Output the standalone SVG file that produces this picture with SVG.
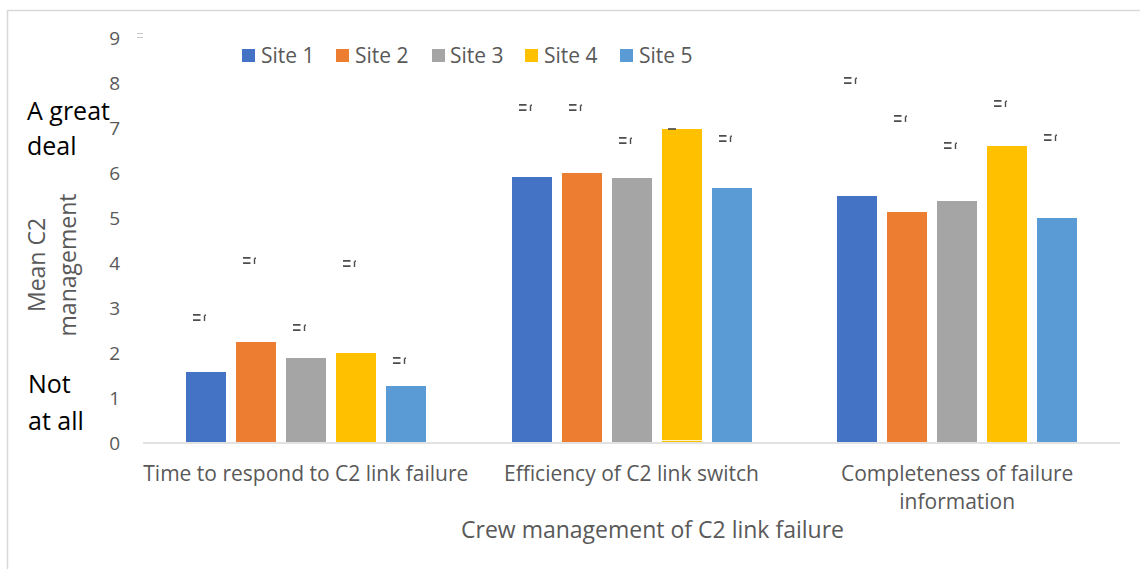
<svg xmlns="http://www.w3.org/2000/svg" xmlns:xlink="http://www.w3.org/1999/xlink" width="1140" height="569" viewBox="0 0 1140 569">
<style>
.t{font-family:"Open Sans","Liberation Sans",sans-serif;fill:#595959}
.tick{font-size:19px;text-anchor:end}
.cat{font-size:21px;text-anchor:middle}
.leg{font-size:21px}
.ttl{font-size:23px;text-anchor:middle}
.blk{font-family:"Open Sans","Liberation Sans",sans-serif;fill:#000;font-size:25px}
.s1{fill:#4472C4}.s2{fill:#ED7D31}.s3{fill:#A5A5A5}.s4{fill:#FFC000}.s5{fill:#5B9BD5}
</style>
<defs>
<g id="eb">
<path d="M0 0.8h7.5M0 6.2h7.5" stroke="#4D4D4D" stroke-width="1.7" fill="none"/>
<path d="M11.5 7V1.4M11.5 1.2h1.5" stroke="#4D4D4D" stroke-width="1.4" fill="none"/>
</g>
</defs>
<rect width="1140" height="569" fill="#fff"/>
<rect x="7.5" y="10.5" width="1160" height="600" fill="none" stroke="#D9D9D9" stroke-width="1.5"/>

<g id="axes">
<line x1="143" y1="443" x2="1120" y2="443" stroke="#D9D9D9" stroke-width="1.5"/>
<text class="t tick" x="120" y="450">0</text>
<text class="t tick" x="120" y="405">1</text>
<text class="t tick" x="120" y="360">2</text>
<text class="t tick" x="120" y="315">3</text>
<text class="t tick" x="120" y="270">4</text>
<text class="t tick" x="120" y="225">5</text>
<text class="t tick" x="120" y="180">6</text>
<text class="t tick" x="120" y="135">7</text>
<text class="t tick" x="120" y="90">8</text>
<text class="t tick" x="120" y="45">9</text>
<path d="M137 33.5h6M137 37.5h6" stroke="#C8C8C8" stroke-width="1.2"/>
<text class="t ttl" transform="translate(45 265) rotate(-90)">Mean C2</text>
<text class="t ttl" transform="translate(76 265) rotate(-90)">management</text>
<text class="t ttl" x="652.5" y="538">Crew management of C2 link failure</text>
<text class="blk" x="27" y="120">A great</text>
<text class="blk" x="27" y="155">deal</text>
<text class="blk" x="28" y="393">Not</text>
<text class="blk" x="28" y="430">at all</text>
</g>

<g id="legend">
<rect class="s1" x="242" y="49" width="13" height="13"/><text class="t leg" x="261" y="62.5">Site 1</text>
<rect class="s2" x="336" y="49" width="13" height="13"/><text class="t leg" x="355" y="62.5">Site 2</text>
<rect class="s3" x="432" y="49" width="13" height="13"/><text class="t leg" x="450" y="62.5">Site 3</text>
<rect class="s4" x="525" y="49" width="13" height="13"/><text class="t leg" x="544" y="62.5">Site 4</text>
<rect class="s5" x="620" y="49" width="13" height="13"/><text class="t leg" x="639" y="62.5">Site 5</text>
</g>

<g id="group-time">
<rect class="s1" x="186" y="372" width="40" height="70"/>
<rect class="s2" x="236" y="342" width="40" height="100"/>
<rect class="s3" x="286" y="358" width="40" height="84"/>
<rect class="s4" x="336" y="353" width="40" height="89"/>
<rect class="s5" x="386" y="386" width="40" height="56"/>
<use xlink:href="#eb" x="193" y="314"/>
<use xlink:href="#eb" x="243" y="257"/>
<use xlink:href="#eb" x="293" y="324"/>
<use xlink:href="#eb" x="343" y="260"/>
<use xlink:href="#eb" x="393" y="357"/>
<text class="t cat" x="305.8" y="481">Time to respond to C2 link failure</text>
</g>

<g id="group-efficiency">
<rect class="s1" x="512" y="177" width="40" height="265"/>
<rect class="s2" x="562" y="173" width="40" height="269"/>
<rect class="s3" x="612" y="178" width="40" height="264"/>
<rect class="s4" x="662" y="129" width="40" height="313"/>
<line x1="662" y1="440.5" x2="702" y2="440.5" stroke="#FFF3CC" stroke-width="1"/>
<rect class="s5" x="712" y="188" width="40" height="254"/>
<use xlink:href="#eb" x="519" y="104"/>
<use xlink:href="#eb" x="569" y="104"/>
<use xlink:href="#eb" x="619" y="137"/>
<path d="M668 129h8" stroke="#4D4D4D" stroke-width="1.7"/>
<use xlink:href="#eb" x="719" y="135"/>
<text class="t cat" x="631.5" y="481">Efficiency of C2 link switch</text>
</g>

<g id="group-completeness">
<rect class="s1" x="837" y="196" width="40" height="246"/>
<rect class="s2" x="887" y="212" width="40" height="230"/>
<rect class="s3" x="937" y="201" width="40" height="241"/>
<rect class="s4" x="987" y="146" width="40" height="296"/>
<rect class="s5" x="1037" y="218" width="40" height="224"/>
<use xlink:href="#eb" x="844" y="77"/>
<use xlink:href="#eb" x="894" y="115"/>
<use xlink:href="#eb" x="944" y="142"/>
<use xlink:href="#eb" x="994" y="100"/>
<use xlink:href="#eb" x="1044" y="134"/>
<text class="t cat" x="957.2" y="481">Completeness of failure</text>
<text class="t cat" x="957.2" y="509">information</text>
</g>
</svg>
